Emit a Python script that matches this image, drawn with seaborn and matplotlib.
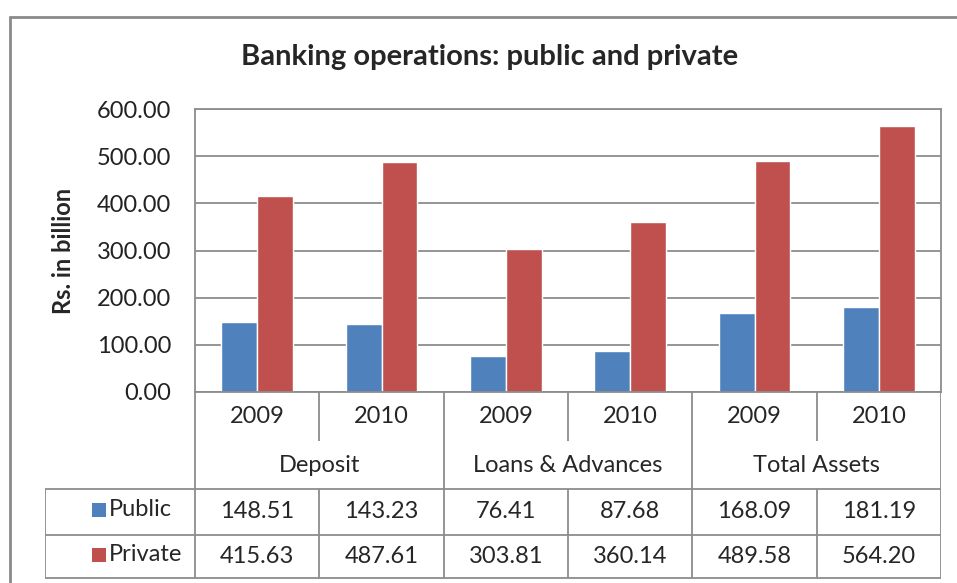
import numpy as np
import pandas as pd
import matplotlib
matplotlib.use("Agg")
import matplotlib.pyplot as plt
import seaborn as sns
from matplotlib.lines import Line2D
from matplotlib.patches import Rectangle

groups = ["Deposit", "Loans & Advances", "Total Assets"]
years = ["2009", "2010"]
public = [148.51, 143.23, 76.41, 87.68, 168.09, 181.19]
private = [415.63, 487.61, 303.81, 360.14, 489.58, 564.20]
series = ["Public", "Private"]
colors = ["#4F81BD", "#C0504D"]
yticks = [0, 100, 200, 300, 400, 500, 600]

cols = [f"{g} {y}" for g in groups for y in years]
df = pd.DataFrame({
    "col": cols * 2,
    "series": ["Public"] * 6 + ["Private"] * 6,
    "value": public + private,
})

sns.set_style("white")
plt.rcParams["font.family"] = ["Lato", "DejaVu Sans"]

W, H = 957, 583
fig = plt.figure(figsize=(W / 100, H / 100), dpi=100)


def box(x0, y0, x1, y1):
    # pixel box (top-left origin) -> figure fraction rect
    return [x0 / W, 1 - y1 / H, (x1 - x0) / W, (y1 - y0) / H]


grid_c = "#8c8c8c"
fs = 17
ax = fig.add_axes(box(195, 109, 941, 392))
sns.barplot(data=df, x="col", y="value", hue="series", palette=colors,
            width=0.575, gap=0, saturation=1, ax=ax, legend=False)
ax.set_ylim(0, 600)
ax.set_xlim(-0.5, 5.5)
ax.set_yticks(yticks)
ax.set_yticklabels([f"{v:.2f}" for v in yticks], fontsize=fs, color="#222222")
ax.tick_params(axis="y", length=0, pad=17)
ax.set_xticks([])
ax.set_xlabel("")
ax.set_ylabel("Rs. in billion", fontsize=17, fontweight="bold", labelpad=16)
ax.yaxis.grid(True, color=grid_c, linewidth=1.3)
ax.set_axisbelow(True)
for s in ax.spines.values():
    s.set_color(grid_c)
    s.set_linewidth(1.3)

fig.text(490 / W, 1 - 57 / H, "Banking operations: public and private",
         ha="center", va="center", fontsize=21, fontweight="bold")

# data table below the plot
pitch = (941 - 195) / 6
tab = fig.add_axes(box(45, 392, 941, 583))
tab.set_xlim(-0.5 - 150 / pitch, 5.5)
tab.set_ylim(583, 392)
tab.axis("off")
lk = dict(color=grid_c, linewidth=1.3, solid_capstyle="butt")
x_left = -0.5 - 150 / pitch
for yy in (489, 535, 578):
    tab.plot([x_left, 5.5], [yy, yy], **lk)
tab.plot([x_left, x_left], [489, 578], **lk)
for xx in (-0.5, 1.5, 3.5, 5.5):
    tab.plot([xx, xx], [392, 578], **lk)
for xx in (0.5, 2.5, 4.5):
    tab.plot([xx, xx], [392, 441], **lk)
    tab.plot([xx, xx], [489, 578], **lk)

for i, c in enumerate(cols):
    tab.text(i, 417, years[i % 2], ha="center", va="center", fontsize=fs)
    tab.text(i, 512, f"{public[i]:.2f}", ha="center", va="center", fontsize=fs)
    tab.text(i, 557, f"{private[i]:.2f}", ha="center", va="center", fontsize=fs)
for j, g in enumerate(groups):
    tab.text(2 * j + 0.5, 466, g, ha="center", va="center", fontsize=fs)

px = 1 / pitch
for k, (name, yc) in enumerate(zip(series, (510, 555))):
    tab.add_patch(Rectangle((x_left + 47 * px, yc - 7), 14 * px, 14,
                            color=colors[k], linewidth=0))
    tab.text(x_left + 64 * px, yc, name, ha="left", va="center", fontsize=fs)

# outer chart frame
fig.add_artist(Line2D([10 / W, 1], [1 - 17 / H, 1 - 17 / H], color="#8a8a8a", linewidth=2))
fig.add_artist(Line2D([10 / W, 10 / W], [0, 1 - 17 / H], color="#8a8a8a", linewidth=2))

fig.savefig("out.png", dpi=100)
